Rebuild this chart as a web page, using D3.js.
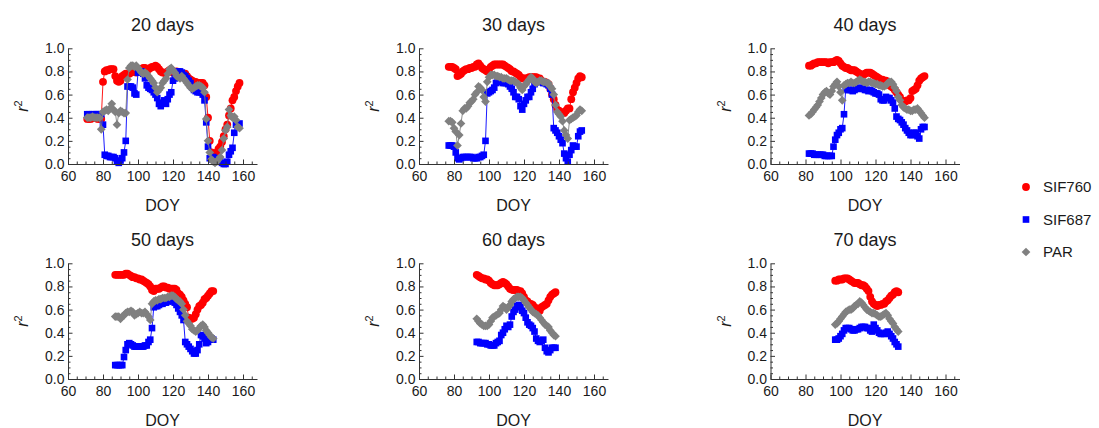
<!DOCTYPE html>
<html><head><meta charset="utf-8">
<script src="https://cdn.jsdelivr.net/npm/d3@7"></script>
<style>body{margin:0;background:#fff;} text{font-family:"Liberation Sans",Arial,Helvetica,sans-serif;fill:#1a1a1a;}</style>
</head><body><svg id="c" width="1099" height="428"></svg>
<script>
// ---------- data ----------
const titles = ["20 days","30 days","40 days","50 days","60 days","70 days"];
const seriesNames = ["SIF760","SIF687","PAR"];
const seriesColors = ["#ff0000","#0000ff","#808080"];
const xTicks = [60,80,100,120,140,160];
const yTicks = [0,0.2,0.4,0.6,0.8,1.0];
const yTickLabels = ["0.0","0.2","0.4","0.6","0.8","1.0"];

const days20 = [71,72,73,74,75,76,77,78,79,80,81,82,83,84,85,86,87,88,89,90,91,92,93,94,95,96,97,98,99,100,101,102,103,104,105,106,107,108,109,110,111,112,113,114,115,116,117,118,119,120,121,122,123,124,125,126,127,128,129,130,131,132,133,134,135,136,137,138,139,140,141,142,143,144,145,146,147,148,149,150,151,152,153,154,155,156,157,158];
const sif760_20 = [.39,.39,.39,.40,.40,.40,.39,.39,.39,.71, .80,.81,.81,.82,.82,.82,.76,.72,.71,.72, .76,.77,.78,.78,.78,.79,.80,.80,.79,.81, .82,.82,.83,.83,.82,.82,.83,.84,.84,.85, .84,.82,.80,.79,.79,.78,.80,.81,.80,.79, .79,.80,.79,.78,.78,.77,.78,.76,.74,.73, .72,.71,.71,.70,.70,.70,.70,.68,.58,.40, .20,.10,.06,.05,.10,.13,.15,.19,.24,.30, .34,.42,.48,.55,.58,.63,.67,.70];
const sif687_20 = [.43,.43,.42,.43,.43,.43,.43,.43,.43,.34, .08,.07,.07,.06,.06,.06,.05,.02,.01,.03, .05,.10,.20,.67,.67,.67,.66,.61,.60,.79, .80,.80,.78,.74,.68,.66,.65,.64,.62,.60, .57,.52,.50,.53,.55,.52,.56,.60,.62,.72, .74,.78,.80,.80,.79,.77,.76,.74,.72,.70, .66,.64,.63,.62,.62,.62,.60,.55,.36,.15, .05,.04,.06,.05,.03,.02,.03,.01,.00,.00, .02,.08,.11,.14,.27,.34,.33,.35];
const par20 = [.40,.40,.40,.41,.40,.40,.40,.40,.30,.45, .46,.47,.46,.48,.52,.47,.45,.34,.44,.46, .45,.44,.44,.73,.83,.85,.85,.84,.85,.83, .81,.79,.78,.79,.78,.76,.74,.72,.70,.66, .62,.64,.66,.70,.72,.74,.78,.82,.83,.81, .79,.76,.75,.74,.76,.74,.72,.70,.68,.66, .65,.66,.67,.68,.68,.67,.66,.62,.39,.20, .10,.04,.02,.01,.02,.04,.06,.12,.22,.29, .32,.47,.42,.40,.41,.38,.32,.31];

const days30 = [77,78,79,80,81,82,83,84,85,86,87,88,89,90,91,92,93,94,95,96,97,98,99,100,101,102,103,104,105,106,107,108,109,110,111,112,113,114,115,116,117,118,119,120,121,122,123,124,125,126,127,128,129,130,131,132,133,134,135,136,137,138,139,140,141,142,143,144,145,146,147,148,149,150,151,152,153];
const sif760_30 = [.84,.84,.84,.83,.82,.76,.77,.78,.80,.81, .82,.82,.83,.83,.84,.84,.86,.87,.85,.83, .82,.81,.80,.82,.84,.85,.86,.86,.86,.86, .86,.86,.85,.84,.83,.82,.80,.80,.79,.78, .77,.75,.74,.74,.74,.74,.75,.75,.75,.75, .75,.74,.74,.72,.71,.71,.70,.69,.65,.60, .56,.51,.47,.46,.45,.44,.44,.46,.48,.48, .56,.62,.66,.70,.74,.76,.75];
const sif687_30 = [.16,.16,.16,.15,.10,.05,.04,.05,.06,.06, .06,.06,.06,.06,.05,.05,.05,.06,.06,.07, .08,.20,.61,.62,.63,.64,.66,.70,.71,.72, .71,.70,.70,.70,.69,.67,.65,.62,.58,.58, .56,.50,.47,.52,.55,.58,.58,.62,.65,.69, .71,.71,.71,.71,.70,.70,.69,.68,.65,.60, .31,.29,.27,.24,.21,.18,.09,.05,.02,.08, .12,.16,.15,.15,.24,.28,.29];
const par30 = [.37,.37,.36,.31,.28,.16,.25,.35,.46,.48, .48,.50,.53,.54,.56,.60,.62,.67,.66,.64, .58,.54,.71,.75,.77,.77,.77,.76,.76,.75, .75,.74,.74,.74,.73,.72,.72,.72,.71,.70, .69,.66,.64,.67,.69,.71,.73,.75,.74,.71, .70,.71,.72,.72,.71,.71,.70,.70,.67,.65, .60,.51,.45,.43,.41,.37,.29,.25,.22,.38, .39,.40,.41,.42,.45,.47,.46];

const days40 = [82,83,84,85,86,87,88,89,90,91,92,93,94,95,96,97,98,99,100,101,102,103,104,105,106,107,108,109,110,111,112,113,114,115,116,117,118,119,120,121,122,123,124,125,126,127,128,129,130,131,132,133,134,135,136,137,138,139,140,141,142,143,144,145,146,147,148];
const sif760_40 = [.85,.85,.86,.87,.87,.88,.88,.88,.88,.88, .88,.87,.88,.88,.88,.89,.90,.89,.87,.85, .84,.83,.83,.82,.81,.81,.81,.80,.79,.78, .77,.77,.78,.79,.79,.79,.78,.77,.76,.75, .74,.73,.73,.72,.72,.69,.68,.67,.66,.64, .62,.60,.58,.55,.54,.54,.55,.55,.57,.63, .64,.65,.68,.72,.74,.75,.76];
const sif687_40 = [.09,.09,.09,.08,.08,.08,.08,.08,.08,.07, .07,.07,.07,.07,.15,.21,.25,.27,.30,.31, .43,.65,.64,.64,.64,.63,.64,.65,.65,.66, .65,.65,.64,.64,.63,.64,.63,.62,.61,.61, .60,.56,.55,.55,.58,.57,.57,.55,.53,.48, .41,.39,.38,.36,.34,.31,.29,.27,.25,.25, .27,.27,.24,.22,.30,.32,.32];
const par40 = [.42,.43,.45,.47,.49,.51,.54,.57,.60,.62, .63,.61,.60,.63,.67,.69,.71,.67,.62,.55, .68,.69,.70,.70,.71,.70,.70,.71,.72,.73, .72,.71,.71,.70,.71,.71,.70,.70,.69,.69, .68,.68,.67,.67,.68,.70,.71,.71,.69,.66, .63,.58,.55,.51,.49,.48,.47,.47,.46,.46, .47,.47,.48,.46,.44,.42,.40];

const days50 = [87,88,89,90,91,92,93,94,95,96,97,98,99,100,101,102,103,104,105,106,107,108,109,110,111,112,113,114,115,116,117,118,119,120,121,122,123,124,125,126,127,128,129,130,131,132,133,134,135,136,137,138,139,140,141,142,143];
const sif760_50 = [.90,.90,.90,.90,.90,.90,.91,.91,.90,.89, .88,.88,.87,.87,.86,.86,.85,.84,.83,.82, .80,.77,.76,.78,.78,.78,.79,.80,.80,.79, .79,.78,.78,.78,.78,.77,.74,.73,.71,.68, .65,.62,.53,.52,.52,.53,.56,.60,.63,.64, .66,.69,.70,.72,.74,.76,.76];
const sif687_50 = [.12,.12,.12,.12,.12,.19,.25,.30,.31,.30, .29,.28,.28,.28,.28,.28,.28,.29,.29,.32, .34,.44,.62,.63,.63,.64,.65,.65,.66,.66, .67,.68,.68,.67,.66,.64,.61,.58,.55,.51, .32,.30,.28,.26,.24,.22,.22,.25,.30,.38, .37,.35,.31,.32,.34,.35,.34];
const par50 = [.54,.54,.54,.52,.54,.55,.57,.58,.58,.59, .58,.55,.56,.57,.58,.57,.57,.58,.56,.54, .51,.65,.67,.68,.68,.69,.69,.70,.70,.70, .71,.71,.72,.72,.71,.69,.68,.67,.65,.60, .55,.50,.48,.46,.43,.42,.41,.42,.44,.46, .47,.45,.42,.40,.38,.36,.35];

const days60 = [93,94,95,96,97,98,99,100,101,102,103,104,105,106,107,108,109,110,111,112,113,114,115,116,117,118,119,120,121,122,123,124,125,126,127,128,129,130,131,132,133,134,135,136,137,138];
const sif760_60 = [.90,.89,.88,.87,.87,.86,.86,.85,.83,.82, .81,.81,.81,.82,.83,.84,.83,.82,.80,.78, .77,.77,.77,.77,.76,.76,.74,.71,.68,.67, .65,.65,.64,.62,.61,.60,.59,.62,.63,.64, .65,.68,.71,.73,.74,.75];
const sif687_60 = [.32,.32,.31,.31,.31,.31,.30,.30,.29,.29, .29,.31,.32,.33,.38,.40,.43,.46,.45,.47, .54,.58,.60,.63,.64,.62,.59,.57,.53,.49, .47,.46,.44,.41,.35,.33,.32,.33,.34,.27, .24,.23,.25,.27,.27,.27];
const par60 = [.52,.50,.48,.47,.46,.46,.46,.47,.50,.53, .54,.55,.56,.57,.60,.63,.62,.60,.62,.64, .67,.69,.70,.71,.71,.71,.70,.68,.66,.64, .62,.60,.58,.57,.56,.55,.53,.51,.49,.47, .46,.45,.42,.40,.38,.37];

const days70 = [97,98,99,100,101,102,103,104,105,106,107,108,109,110,111,112,113,114,115,116,117,118,119,120,121,122,123,124,125,126,127,128,129,130,131,132,133];
const sif760_70 = [.85,.85,.86,.86,.86,.87,.87,.87,.86,.85, .84,.83,.83,.83,.82,.81,.81,.80,.78,.76, .71,.67,.65,.64,.63,.64,.64,.65,.65,.67, .68,.70,.72,.73,.75,.76,.75];
const sif687_70 = [.34,.34,.35,.37,.39,.42,.44,.44,.44,.43, .42,.42,.43,.43,.44,.45,.45,.45,.44,.44, .42,.41,.47,.44,.42,.40,.39,.39,.39,.40, .41,.39,.37,.35,.32,.30,.28];
const par70 = [.47,.48,.50,.52,.54,.56,.58,.59,.60,.60, .61,.63,.64,.65,.67,.66,.64,.62,.60,.59, .58,.57,.57,.56,.55,.54,.54,.55,.56,.57, .55,.52,.50,.48,.45,.43,.41];

const panels = [
  {title: titles[0], days: days20, vals: [sif760_20, sif687_20, par20]},
  {title: titles[1], days: days30, vals: [sif760_30, sif687_30, par30]},
  {title: titles[2], days: days40, vals: [sif760_40, sif687_40, par40]},
  {title: titles[3], days: days50, vals: [sif760_50, sif687_50, par50]},
  {title: titles[4], days: days60, vals: [sif760_60, sif687_60, par60]},
  {title: titles[5], days: days70, vals: [sif760_70, sif687_70, par70]}
];

// ---------- layout ----------
const svg = d3.select("#c");
const colX = [68, 419, 770.5];
const rowY = [48.3, 263.3];
const W = 189, H = 115.7;
const axisColor = "#333";

const symbols = [
  {type: d3.symbolCircle, size: 48, rot: 0},
  {type: d3.symbolSquare, size: 44, rot: 0},
  {type: d3.symbolSquare, size: 38, rot: 45}
];

panels.forEach((p, i) => {
  const c = i % 3, r = Math.floor(i / 3);
  const g = svg.append("g").attr("transform", `translate(${colX[c]},${rowY[r]})`);
  const x = d3.scaleLinear().domain([60, 168]).range([0, W]);
  const y = d3.scaleLinear().domain([0, 1]).range([H, 0]);

  // series
  p.vals.forEach((vals, s) => {
    const pts = p.days.map((d, k) => [d, vals[k]]);
    g.append("path")
      .attr("d", d3.line().x(d => x(d[0])).y(d => y(d[1]))(pts))
      .attr("fill", "none").attr("stroke", seriesColors[s]).attr("stroke-width", 0.9);
    const sym = d3.symbol().type(symbols[s].type).size(symbols[s].size);
    g.append("g").selectAll("path").data(pts).join("path")
      .attr("d", sym)
      .attr("transform", d => `translate(${x(d[0])},${y(d[1])}) rotate(${symbols[s].rot})`)
      .attr("fill", seriesColors[s]);
  });

  // minor ticks
  const xMinor = d3.range(60, 168, 5).filter(v => v % 20 !== 0);
  const yMinor = d3.range(0, 1.0001, 0.05).filter(v => Math.abs(v*5 - Math.round(v*5)) > 1e-6);

  const xAxis = g.append("g").attr("transform", `translate(0,${H})`)
    .call(d3.axisBottom(x).tickValues(xTicks).tickSizeInner(-4.5).tickSizeOuter(0).tickPadding(7).tickFormat(d3.format("d")));
  const xAxisMinor = g.append("g").attr("transform", `translate(0,${H})`)
    .call(d3.axisBottom(x).tickValues(xMinor).tickSizeInner(-2.5).tickSizeOuter(0).tickFormat(""));
  xAxisMinor.select(".domain").remove();

  const yAxis = g.append("g")
    .call(d3.axisLeft(y).tickValues(yTicks).tickSizeInner(-4.5).tickSizeOuter(0).tickPadding(3.5).tickFormat((d, k) => yTickLabels[k]));
  const yAxisMinor = g.append("g")
    .call(d3.axisLeft(y).tickValues(yMinor).tickSizeInner(-2.5).tickSizeOuter(0).tickFormat(""));
  yAxisMinor.select(".domain").remove();

  [xAxis, xAxisMinor, yAxis, yAxisMinor].forEach(a => {
    a.selectAll("path,line").attr("stroke", axisColor).attr("stroke-width", 1);
    a.selectAll("text").attr("font-size", 14).attr("fill", "#1a1a1a")
      .attr("font-family", '"Liberation Sans",Arial,sans-serif');
  });

  // title
  g.append("text").attr("x", W/2).attr("y", -17.6).attr("text-anchor", "middle")
    .attr("font-size", 18).text(p.title);
  // x label
  g.append("text").attr("x", W/2).attr("y", H + 47).attr("text-anchor", "middle")
    .attr("font-size", 16).text("DOY");
  // y label r^2
  const yl = g.append("text").attr("transform", `translate(-40,${H/2}) rotate(-90)`)
    .attr("text-anchor", "middle").attr("font-size", 16);
  yl.append("tspan").attr("font-style", "italic").text("r");
  yl.append("tspan").attr("font-size", 11).attr("dy", -6).text("2");
});

// legend
const leg = svg.append("g").attr("transform", "translate(1026,187)");
seriesNames.forEach((n, s) => {
  const gy = s * 32.5;
  leg.append("path").attr("d", d3.symbol().type(symbols[s].type).size(symbols[s].size)())
    .attr("transform", `translate(0,${gy}) rotate(${symbols[s].rot})`)
    .attr("fill", seriesColors[s]);
  leg.append("text").attr("x", 17).attr("y", gy).attr("dy", "0.36em")
    .attr("font-size", 15).text(n);
});
</script></body></html>
